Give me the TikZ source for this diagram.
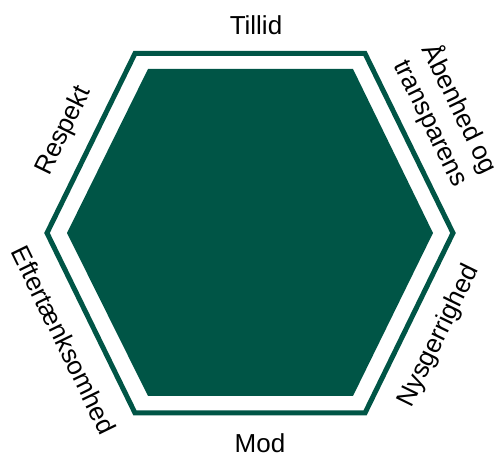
\documentclass[tikz,border=0pt]{standalone}
\usepackage{fontspec}
\setmainfont{Liberation Sans}
\definecolor{hexgreen}{RGB}{0,85,70}
\begin{document}
\begin{tikzpicture}[x=1pt,y=-1pt,
  lbl/.style={font=\fontsize{26}{32}\selectfont, inner sep=0pt, align=center, text=black}]
\useasboundingbox (0,0) rectangle (499,457);
\draw[hexgreen, line width=5pt, line join=miter]
  (135,53.5) -- (365,53.5) -- (453,233) -- (365,413) -- (135,413) -- (47,233) -- cycle;
\fill[hexgreen]
  (148,69) -- (353,69) -- (433,233) -- (353,396) -- (148,396) -- (67,233) -- cycle;
\node[lbl, anchor=base] (tillid) at (256,35) {Tillid};
\node[lbl, anchor=base] (mod) at (260,453) {Mod};
\node[lbl, rotate=64] (respekt) at (64,131) {Respekt};
\node[lbl, rotate=-64] (efter) at (64,340) {Eftertænksomhed};
\node[lbl, rotate=64] (nysg) at (439,336) {Nysgerrighed};
\node[lbl, rotate=-64] (aaben) at (446,116) {Åbenhed og\\transparens};
\end{tikzpicture}
\end{document}
